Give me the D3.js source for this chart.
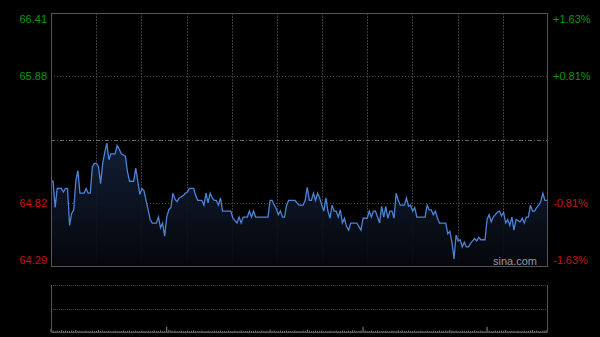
<!DOCTYPE html>
<html>
<head>
<meta charset="utf-8">
<script src="https://cdn.jsdelivr.net/npm/d3@7"></script>
<style>
  html, body { margin: 0; padding: 0; background: #000; }
  svg { display: block; }
  text { font-family: "Liberation Sans", Arial, sans-serif; }
</style>
</head>
<body>
<div id="chart"></div>
<script>
// intraday minute prices, 241 points (9:30 - 15:00)
var prices = [
  65.00,65.00,64.78,64.94,64.94,64.94,64.91,64.94,64.94,64.63,
  64.73,64.76,65.00,65.09,64.90,64.90,64.90,64.94,64.90,64.90,
  65.12,65.15,65.15,65.12,64.98,65.15,65.24,65.32,65.18,65.23,
  65.23,65.23,65.30,65.27,65.23,65.22,65.21,65.08,65.00,65.00,
  65.00,65.11,65.00,64.89,64.94,64.92,64.84,64.76,64.68,64.65,
  64.65,64.65,64.70,64.61,64.65,64.54,64.70,64.76,64.78,64.90,
  64.85,64.83,64.86,64.87,64.88,64.90,64.91,64.94,64.94,64.94,
  64.88,64.84,64.84,64.84,64.80,64.90,64.82,64.90,64.86,64.84,
  64.84,64.80,64.86,64.75,64.75,64.75,64.75,64.75,64.69,64.67,
  64.65,64.70,64.65,64.70,64.70,64.70,64.75,64.70,64.75,64.70,
  64.70,64.70,64.70,64.70,64.70,64.70,64.84,64.84,64.80,64.77,
  64.72,64.75,64.70,64.70,64.80,64.84,64.84,64.84,64.84,64.82,
  64.80,64.80,64.80,64.84,64.95,64.84,64.84,64.90,64.84,64.90,
  64.86,64.80,64.75,64.86,64.75,64.69,64.80,64.75,64.75,64.70,
  64.76,64.65,64.69,64.62,64.59,64.65,64.65,64.65,64.65,64.62,
  64.59,64.69,64.69,64.69,64.75,64.70,64.75,64.75,64.70,64.65,
  64.79,64.70,64.79,64.69,64.75,64.75,64.69,64.90,64.84,64.80,
  64.80,64.80,64.86,64.79,64.80,64.75,64.78,64.70,64.70,64.70,
  64.70,64.70,64.80,64.76,64.76,64.72,64.75,64.69,64.65,64.65,
  64.65,64.65,64.56,64.58,64.49,64.35,64.55,64.50,64.51,64.45,
  64.49,64.45,64.45,64.48,64.50,64.52,64.50,64.53,64.51,64.51,
  64.51,64.68,64.72,64.66,64.70,64.72,64.74,64.75,64.71,64.74,
  64.65,64.68,64.63,64.70,64.59,64.68,64.67,64.66,64.69,64.65,
  64.70,64.70,64.80,64.75,64.75,64.78,64.80,64.83,64.90,64.84,64.84
];

// volume per minute (relative units)
var volumes = [
  7,3,2,3,2,4,2,3,2,2,3,2,4,2,3,2,2,3,2,2,
  3,2,2,4,2,3,2,2,3,2,2,3,2,2,2,3,2,2,3,2,
  2,3,2,2,3,2,2,3,2,2,3,2,2,3,2,2,11,4,3,2,
  3,2,2,3,2,2,3,2,2,3,2,2,2,3,2,2,3,2,2,3,
  2,2,3,2,2,2,3,2,2,3,2,2,3,2,2,2,3,2,2,3,
  2,2,3,2,2,2,5,2,3,2,2,3,2,2,3,2,2,2,3,2,
  2,2,3,2,5,3,2,2,3,2,2,3,2,2,2,3,2,2,3,2,
  2,3,2,2,3,2,4,3,2,2,3,11,3,2,2,3,2,2,3,2,
  2,2,3,2,2,3,2,2,4,2,3,2,2,3,2,2,3,2,2,3,
  2,2,3,2,2,3,2,2,3,2,2,3,2,4,3,2,3,2,2,3,
  2,2,3,2,2,3,2,2,3,2,2,11,3,2,2,3,2,2,3,2,
  4,2,2,3,2,2,3,2,2,3,2,2,3,4,2,3,2,2,3,3,4
];

var prevClose = 65.35;
var priceTicks = [66.41, 65.88, 64.82, 64.29];
var pctTicks = ["+1.63%", "+0.81%", "-0.81%", "-1.63%"];
var gridPrices = [65.88, 64.82];
var volMax = 100;

var W = 600, H = 337;
var pLeft = 51, pRight = 548, pTop = 13, pBottom = 266;
var vTop = 285, vBottom = 332;

var svg = d3.select("#chart").append("svg")
    .attr("width", W).attr("height", H)
    .style("background", "#000");

var x = d3.scaleLinear().domain([0, prices.length - 1]).range([pLeft, pRight - 1]);
var y = d3.scaleLinear().domain([64.29, 66.41]).range([pBottom, pTop]);
var yv = d3.scaleLinear().domain([0, volMax]).range([vBottom, vTop]);

// vertical grid
var vgrid = d3.range(1, 11).map(function(i) { return pLeft + (pRight - pLeft) * i / 11; });
svg.append("g").selectAll("line").data(vgrid).enter().append("line")
    .attr("x1", function(d) { return Math.round(d) + 0.5; })
    .attr("x2", function(d) { return Math.round(d) + 0.5; })
    .attr("y1", pTop).attr("y2", pBottom)
    .attr("stroke", "#3a3a3a").attr("stroke-dasharray", "2,1");

// horizontal grid
svg.append("g").selectAll("line").data(gridPrices).enter().append("line")
    .attr("x1", pLeft).attr("x2", pRight)
    .attr("y1", function(d) { return Math.round(y(d)) + 0.5; })
    .attr("y2", function(d) { return Math.round(y(d)) + 0.5; })
    .attr("stroke", "#4a4a4a").attr("stroke-dasharray", "1,2");

svg.append("line")
    .attr("x1", pLeft).attr("x2", pRight)
    .attr("y1", Math.round(y(prevClose)) + 0.5).attr("y2", Math.round(y(prevClose)) + 0.5)
    .attr("stroke", "#666").attr("stroke-dasharray", "4,2,1,2");

// area fill
var grad = svg.append("defs").append("linearGradient")
    .attr("id", "fill").attr("x1", 0).attr("y1", 0).attr("x2", 0).attr("y2", 1);
grad.append("stop").attr("offset", "0%").attr("stop-color", "#14223d").attr("stop-opacity", 0.9);
grad.append("stop").attr("offset", "100%").attr("stop-color", "#05070c").attr("stop-opacity", 0.9);

var area = d3.area()
    .x(function(d, i) { return x(i); })
    .y0(pBottom)
    .y1(function(d) { return y(d); });

svg.append("path").datum(prices)
    .attr("d", area)
    .attr("fill", "url(#fill)");

var line = d3.line()
    .x(function(d, i) { return x(i); })
    .y(function(d) { return y(d); });

svg.append("path").datum(prices)
    .attr("d", line)
    .attr("fill", "none")
    .attr("stroke", "#4d83d6")
    .attr("stroke-width", 1.3);

// frame of main panel
svg.append("rect")
    .attr("x", pLeft + 0.5).attr("y", pTop + 0.5)
    .attr("width", pRight - pLeft - 1).attr("height", pBottom - pTop)
    .attr("fill", "none").attr("stroke", "#555");

// labels
function labelY(i) {
  var yy = y(priceTicks[i]);
  if (i === 0) yy += 6;
  if (i === priceTicks.length - 1) yy -= 6;
  return yy + 4;
}

svg.append("g").selectAll("text").data(priceTicks).enter().append("text")
    .attr("x", 47)
    .attr("y", function(d, i) { return labelY(i); })
    .attr("text-anchor", "end")
    .attr("font-size", 11)
    .attr("fill", function(d) { return d > prevClose ? "#0a9a0a" : "#cc1010"; })
    .text(function(d) { return d.toFixed(2); });

svg.append("g").selectAll("text").data(pctTicks).enter().append("text")
    .attr("x", 553)
    .attr("y", function(d, i) { return labelY(i); })
    .attr("text-anchor", "start")
    .attr("font-size", 11)
    .attr("fill", function(d) { return d.charAt(0) === "+" ? "#0a9a0a" : "#cc1010"; })
    .text(function(d) { return d; });

svg.append("text")
    .attr("x", 537).attr("y", 265)
    .attr("text-anchor", "end")
    .attr("font-size", 11)
    .attr("fill", "#9a9a9a")
    .text("sina.com");

// volume panel
svg.append("g").selectAll("line").data([vTop, (vTop + vBottom) / 2]).enter().append("line")
    .attr("x1", pLeft).attr("x2", pRight)
    .attr("y1", function(d) { return Math.round(d) + 0.5; })
    .attr("y2", function(d) { return Math.round(d) + 0.5; })
    .attr("stroke", "#4a4a4a").attr("stroke-dasharray", "1,1");

svg.append("g").selectAll("line").data(volumes).enter().append("line")
    .attr("x1", function(d, i) { return x(i); })
    .attr("x2", function(d, i) { return x(i); })
    .attr("y1", vBottom)
    .attr("y2", function(d) { return yv(d); })
    .attr("stroke", "#8a8a8a").attr("stroke-width", 1);

svg.append("path")
    .attr("d", "M" + (pLeft + 0.5) + "," + vTop + "V" + (vBottom + 0.5) + "H" + (pRight - 0.5) + "V" + vTop)
    .attr("fill", "none").attr("stroke", "#555");
</script>
</body>
</html>
